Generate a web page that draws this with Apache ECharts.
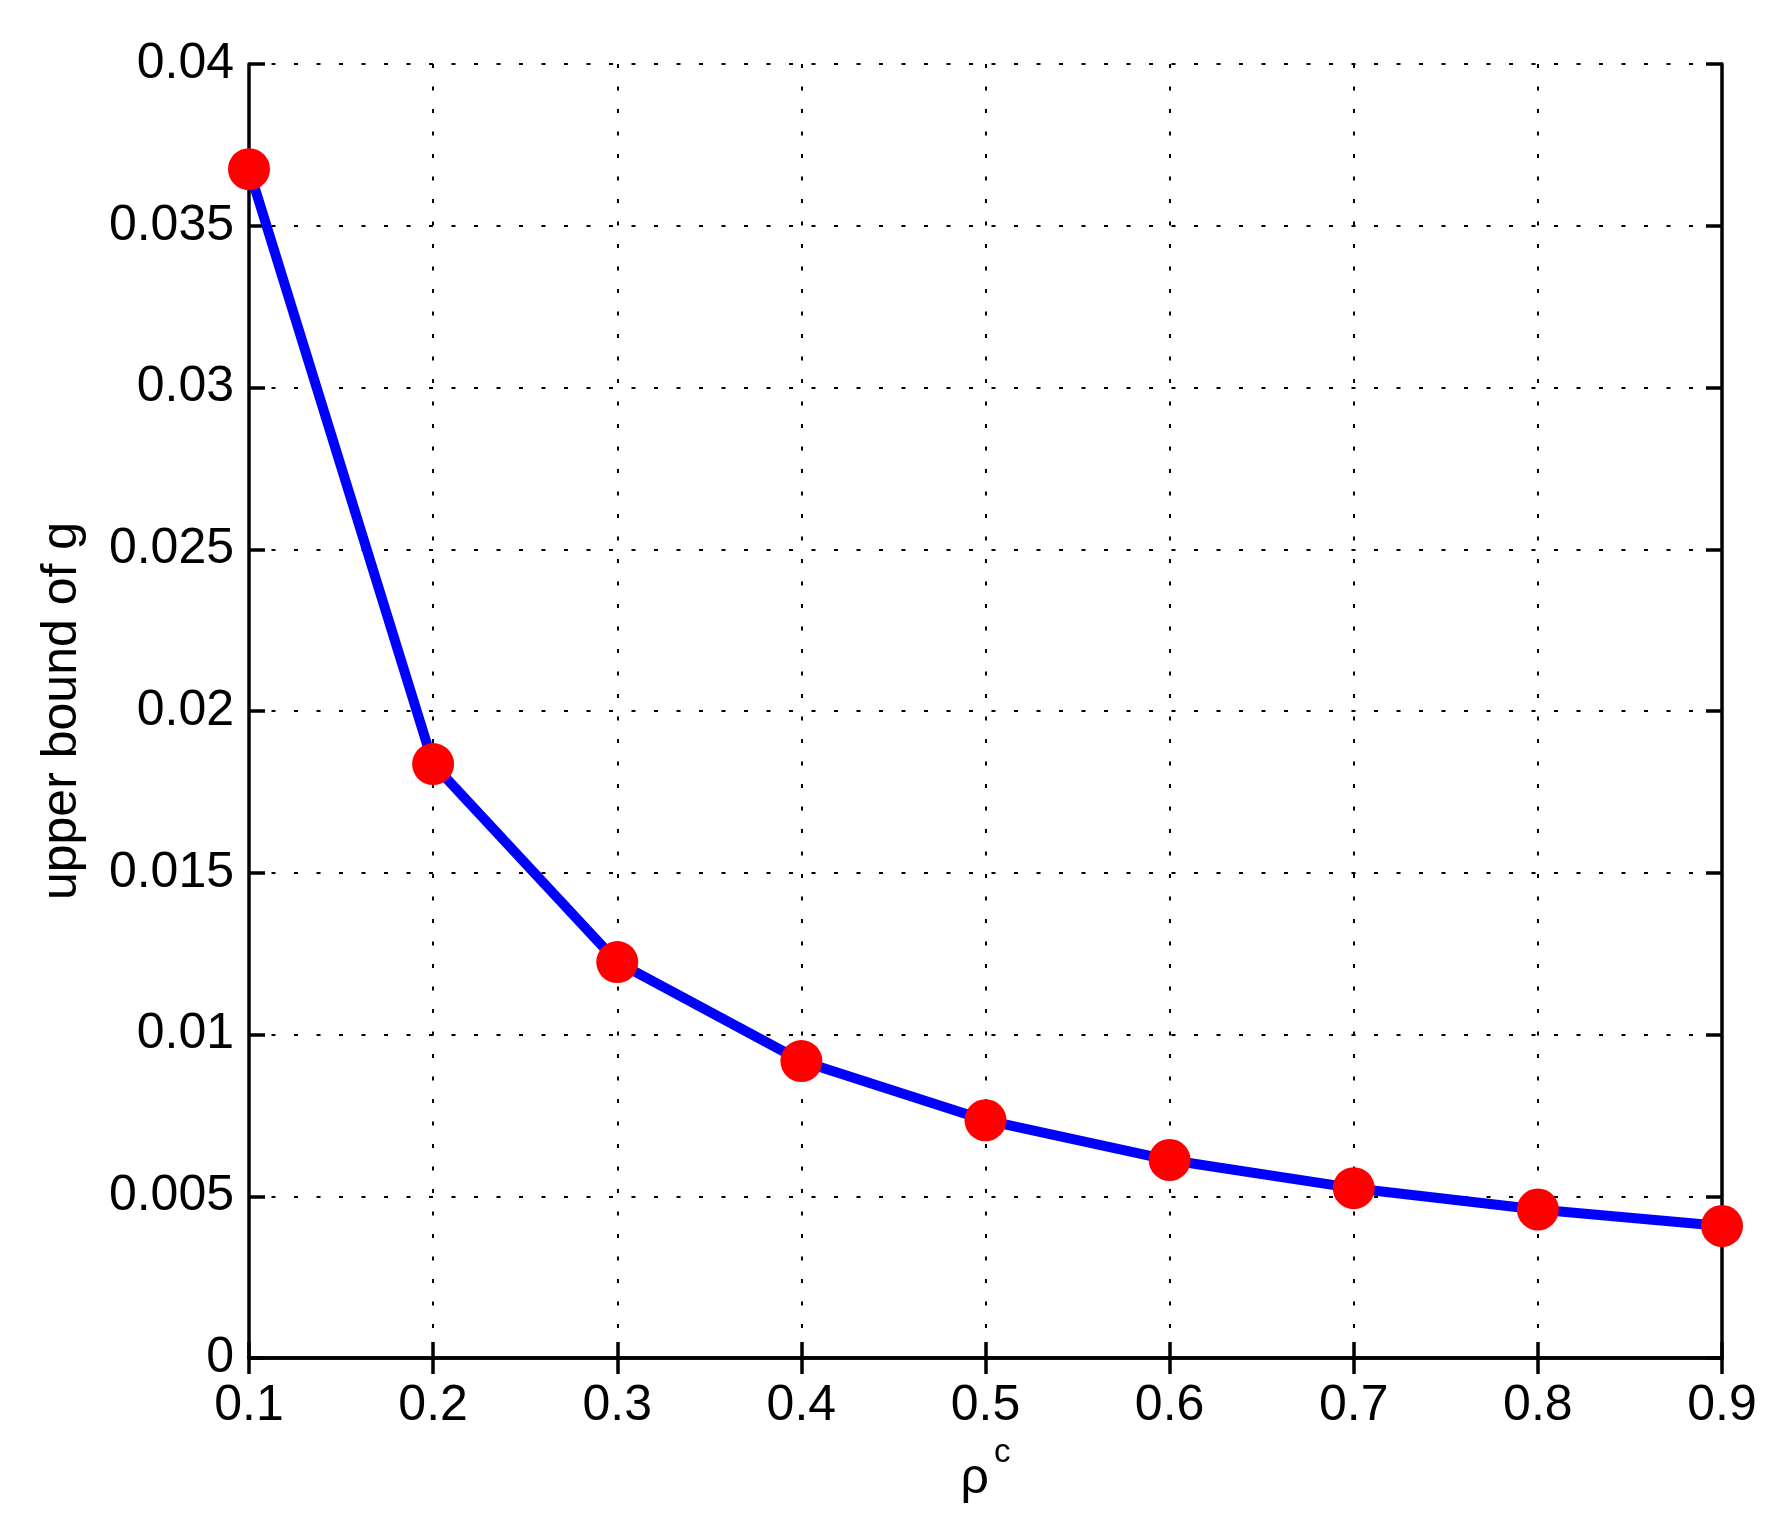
<!DOCTYPE html>
<html>
<head>
<meta charset="utf-8">
<title>upper bound of g</title>
<script src="https://cdn.jsdelivr.net/npm/echarts@6/dist/echarts.min.js"></script>
<style>
  html, body { margin: 0; padding: 0; background: #fff; }
  #chart { width: 1779px; height: 1533px; }
</style>
</head>
<body>
<div id="chart"></div>
<script>
// values
const rhoValues = [0.1, 0.2, 0.3, 0.4, 0.5, 0.6, 0.7, 0.8, 0.9];
const upperBound = [0.03675, 0.01836, 0.01224, 0.00918, 0.00735, 0.00612, 0.00525, 0.00459, 0.00408];

const FONT = "'Liberation Sans', Arial, Helvetica, sans-serif";

function renderChart() {
  const chartDom = document.getElementById("chart");
  const chart = echarts.init(chartDom);

  const points = rhoValues.map((x, i) => [x, upperBound[i]]);

  const gridLine = {
    show: true,
    lineStyle: { color: "#000", width: 2, type: [4, 18.5] }
  };
  const ticks = {
    show: true,
    inside: true,
    length: 16,
    lineStyle: { color: "#000", width: 3.5 }
  };
  const axisLine = { show: true, lineStyle: { color: "#000", width: 3.5 } };

  const option = {
    backgroundColor: "#fff",
    animation: false,
    grid: { left: 249, right: 57, top: 64, bottom: 175 },
    xAxis: [
      {
        type: "value",
        min: 0.1,
        max: 0.9,
        interval: 0.1,
        position: "bottom",
        axisLine: axisLine,
        axisTick: ticks,
        splitLine: gridLine,
        axisLabel: { color: "#000", fontSize: 50, fontFamily: FONT, margin: 23 },
        name: "{r|ρ}{s|c}",
        nameLocation: "middle",
        nameGap: 78,
        nameTextStyle: {
          rich: {
            r: { fontSize: 50, fontFamily: FONT, color: "#000", lineHeight: 68, verticalAlign: "bottom" },
            s: { fontSize: 33, fontFamily: FONT, color: "#000", lineHeight: 64, verticalAlign: "top", padding: [0, 0, 0, 5] }
          }
        }
      },
      {
        type: "value",
        min: 0.1,
        max: 0.9,
        interval: 0.1,
        position: "top",
        axisLine: axisLine,
        axisTick: ticks,
        splitLine: { show: false },
        axisLabel: { show: false }
      }
    ],
    yAxis: [
      {
        type: "value",
        min: 0,
        max: 0.04,
        interval: 0.005,
        position: "left",
        axisLine: axisLine,
        axisTick: ticks,
        splitLine: gridLine,
        axisLabel: { color: "#000", fontSize: 50, fontFamily: FONT, margin: 15 },
        name: "upper bound of g",
        nameLocation: "middle",
        nameGap: 162,
        nameTextStyle: { color: "#000", fontSize: 50, fontFamily: FONT }
      },
      {
        type: "value",
        min: 0,
        max: 0.04,
        interval: 0.005,
        position: "right",
        axisLine: axisLine,
        axisTick: ticks,
        splitLine: { show: false },
        axisLabel: { show: false }
      }
    ],
    series: [
      {
        type: "line",
        data: points,
        clip: false,
        symbol: "circle",
        symbolSize: 42,
        lineStyle: { color: "#0000ff", width: 10 },
        itemStyle: { color: "#ff0000", borderWidth: 0 }
      }
    ]
  };

  chart.setOption(option);
  window.addEventListener("resize", () => chart.resize());
}

renderChart();
</script>
</body>
</html>
